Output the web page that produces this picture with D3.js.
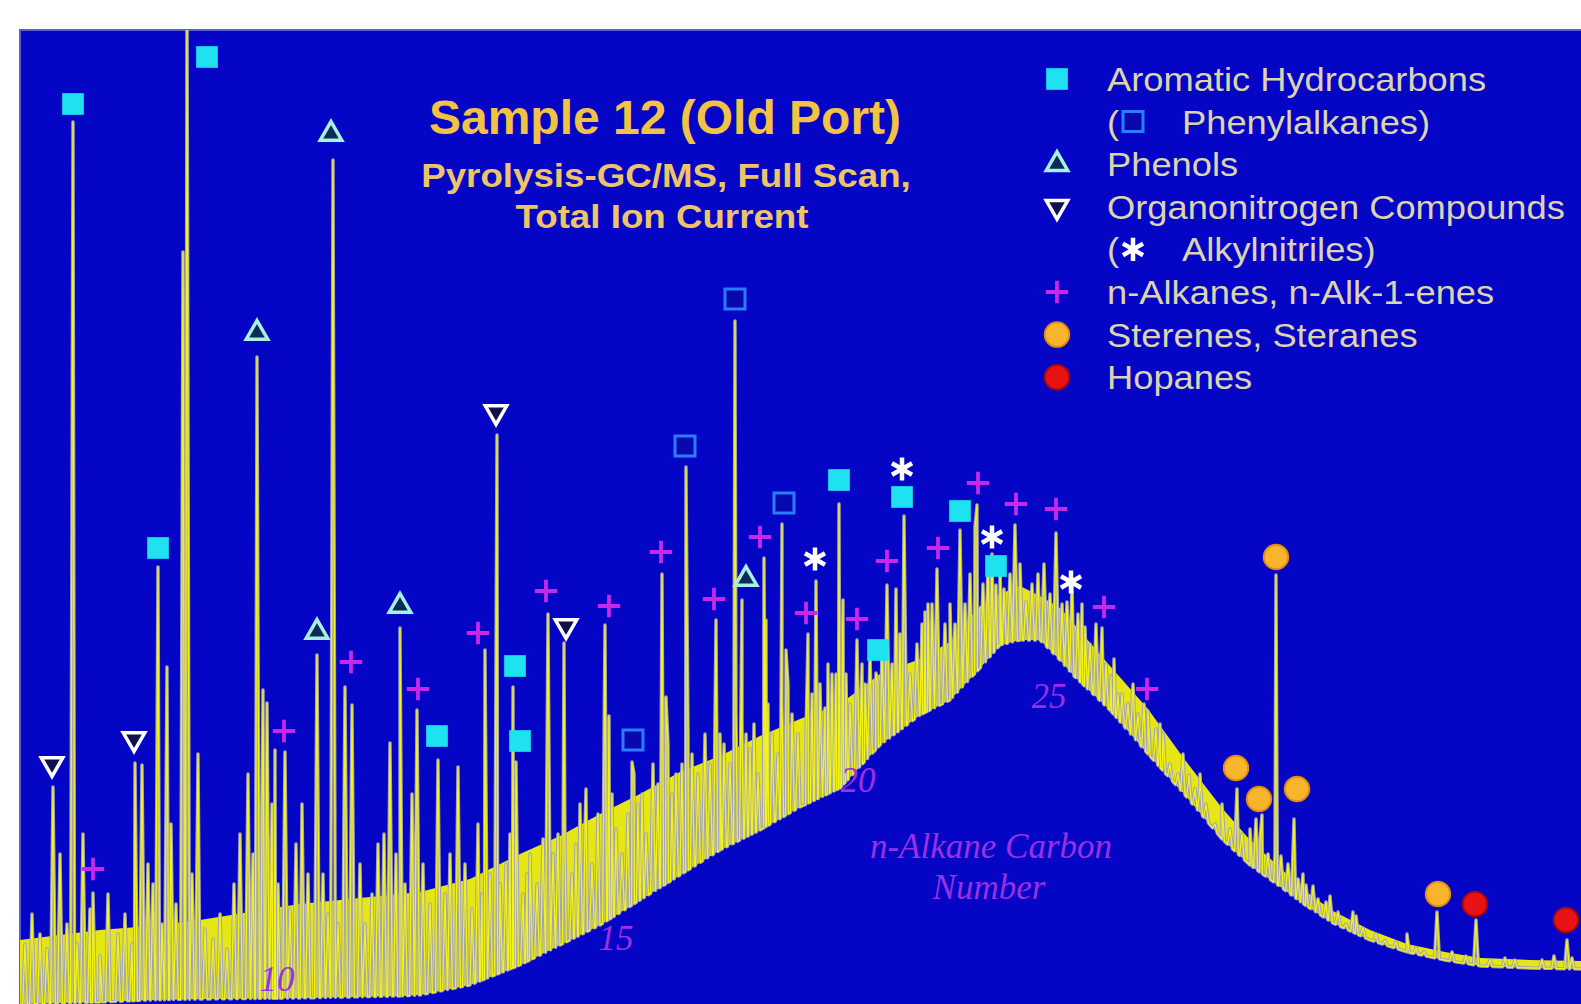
<!DOCTYPE html>
<html>
<head>
<meta charset="utf-8">
<script src="https://cdn.jsdelivr.net/npm/d3@7"></script>
<style>
html, body { margin: 0; padding: 0; background: #ffffff; overflow: hidden; }
svg { display: block; }
</style>
</head>
<body>
<svg id="chart" width="1581" height="1004"></svg>
<script>
// Pyrolysis-GC/MS total ion current, Sample 12 (Old Port)
// x = scan number, y = abundance (counts, arbitrary units)

// unresolved hump: lower and upper edge of the noisy band
var humpScan = [0, 80, 130, 180, 280, 380, 400, 450, 500, 540, 580, 620, 660, 700, 740, 780, 820, 860, 900, 930, 960, 980, 1000, 1020, 1040, 1054, 1090, 1128, 1165, 1202, 1230, 1258, 1285, 1313, 1350, 1387, 1425, 1461, 1510, 1561];
var humpLow  = [0, 2, 4, 5, 6, 8, 9, 19, 39, 59, 79, 104, 129, 154, 174, 197, 216, 259, 289, 304, 336, 359, 364, 364, 344, 328, 294, 250, 209, 165, 139, 119, 99, 81, 64, 52, 44, 38, 36, 35];
var humpHigh = [64, 74, 78, 84, 100, 110, 112, 125, 150, 168, 190, 210, 232, 248, 268, 285, 300, 330, 345, 362, 398, 410, 418, 408, 396, 380, 338, 295, 244, 196, 164, 138, 113, 93, 74, 60, 52, 46, 44, 43];

// resolved peaks [scan, apex counts]
var peaks = [
  [33, 217], [53, 882], [73, 111], [115, 241], [122, 239], [138, 437], [147, 337],
  [163, 752], [167, 1010], [237, 647], [243, 314], [247, 301], [255, 254], [265, 252],
  [297, 349], [313, 844], [325, 317], [332, 299], [370, 261], [380, 376], [397, 294],
  [418, 244], [438, 237], [465, 354], [477, 569], [493, 317], [496, 242], [528, 390],
  [544, 361], [566, 215], [585, 379], [589, 288], [612, 242], [642, 430], [646, 307],
  [666, 537], [696, 384], [715, 683], [722, 404], [744, 446], [746, 384], [762, 480],
  [766, 354], [788, 370], [796, 423], [805, 296], [819, 500], [823, 404], [837, 364],
  [856, 331], [867, 419], [876, 415], [884, 488], [905, 392], [917, 435], [940, 474],
  [955, 477], [957, 499], [976, 419], [984, 415], [995, 479], [1006, 402], [1036, 471],
  [1047, 402], [1065, 377], [1082, 376], [1091, 328], [1102, 310], [1128, 293],
  [1136, 275], [1143, 271], [1169, 229], [1180, 218], [1217, 215], [1236, 185],
  [1242, 189], [1256, 429], [1261, 148], [1274, 185], [1286, 119], [1306, 102],
  [1336, 88], [1387, 70], [1417, 92], [1456, 84], [1547, 64]
];

// small peaks riding on the hump [scan, apex counts]
var minorPeaks = [
  [5, 60], [12, 90], [20, 70], [27, 55], [40, 150], [47, 80], [57, 60], [63, 170],
  [70, 95], [80, 48], [88, 110], [98, 70], [105, 90], [112, 60], [128, 140], [133, 120],
  [142, 80], [151, 180], [156, 100], [172, 130], [178, 250], [185, 75], [193, 65],
  [200, 90], [207, 55], [214, 120], [220, 170], [228, 230], [233, 150], [252, 200],
  [258, 120], [270, 95], [276, 160], [282, 200], [288, 130], [303, 130], [308, 90],
  [318, 80], [340, 140], [345, 80], [352, 110], [358, 160], [364, 170], [376, 150],
  [385, 120], [392, 210], [403, 140], [410, 100], [425, 110], [430, 150], [445, 140],
  [452, 95], [458, 180], [462, 110], [470, 130], [480, 120], [486, 140], [490, 170],
  [503, 110], [507, 130], [510, 150], [517, 120], [523, 165], [533, 150], [538, 170],
  [545, 150], [552, 130], [556, 160], [560, 200], [565, 175], [572, 140], [578, 190],
  [592, 210], [596, 175], [602, 150], [608, 190], [614, 230], [618, 200], [622, 210],
  [626, 170], [633, 240], [638, 220], [648, 260], [652, 210], [656, 230], [662, 240],
  [668, 270], [672, 250], [678, 230], [685, 270], [690, 240], [700, 270], [704, 260],
  [710, 240], [716, 290], [722, 280], [726, 270], [730, 255], [734, 280], [738, 230],
  [748, 300], [752, 270], [758, 250], [762, 300], [768, 320], [772, 290], [778, 270],
  [786, 270], [792, 310], [800, 320], [808, 340], [812, 330], [816, 330], [826, 330],
  [830, 300], [842, 340], [845, 320], [850, 350], [858, 320], [862, 360], [872, 340],
  [880, 370], [890, 330], [897, 360], [902, 380], [908, 400], [912, 400], [925, 380],
  [930, 400], [935, 380], [945, 400], [950, 430], [963, 420], [968, 440], [972, 450],
  [980, 440], [990, 430], [1000, 440], [1012, 420], [1018, 430], [1024, 440], [1030, 410],
  [1042, 400], [1052, 420], [1058, 390], [1062, 400], [1070, 360], [1076, 380],
  [1086, 340], [1094, 345], [1098, 310], [1108, 300], [1113, 320], [1118, 290],
  [1124, 300], [1140, 280], [1150, 240], [1158, 230], [1163, 250], [1175, 215],
  [1180, 230], [1186, 200], [1195, 180], [1202, 200], [1210, 175], [1216, 190],
  [1222, 170], [1230, 175], [1240, 165], [1248, 150], [1255, 150], [1268, 140],
  [1278, 125], [1283, 130], [1293, 118], [1298, 105], [1310, 108], [1318, 92],
  [1326, 80], [1333, 92], [1343, 76], [1356, 70], [1365, 62], [1376, 62], [1396, 56],
  [1404, 50], [1432, 52], [1446, 48], [1470, 44], [1485, 46], [1495, 44], [1522, 44],
  [1534, 48], [1552, 46]
];

// compound class markers [scan, counts]
var aromatic = [[53, 900], [187, 947], [138, 456], [417, 268], [495, 338], [500, 263], [819, 524], [882, 507], [940, 493], [976, 438], [858, 354]];
var phenylalkanes = [[715, 705], [665, 558], [764, 501], [613, 264]];
var phenols = [[311, 870], [237, 671], [297, 372], [380, 398], [726, 425]];
var nitrogen = [[32, 240], [114, 265], [476, 592], [546, 378]];
var nitriles = [[795, 445], [882, 535], [972, 467], [1051, 422]];
var alkanes = [[73, 135], [264, 273], [331, 342], [398, 315], [458, 371], [526, 413], [589, 398], [641, 452], [694, 405], [740, 467], [786, 391], [837, 385], [867, 443], [918, 456], [958, 521], [996, 500], [1036, 495], [1084, 397], [1127, 315]];
var steranes = [[1256, 447], [1216, 236], [1239, 205], [1277, 215], [1418, 110]];
var hopanes = [[1455, 100], [1546, 84]];

// n-alkane carbon numbers [label, scan, counts]
var carbonNumbers = [["10", 257, 13], ["15", 596, 54], ["20", 838, 212], ["25", 1029, 296]];

var legendLabels = ["Aromatic Hydrocarbons", "Phenylalkanes)", "Phenols", "Organonitrogen Compounds", "Alkylnitriles)", "n-Alkanes, n-Alk-1-enes", "Sterenes, Steranes", "Hopanes"];
var legendKeys = ["aromatic", "phenylalkanes", "phenols", "nitrogen", "nitriles", "alkanes", "steranes", "hopanes"];

var W = 1581, H = 1004;
var svg = d3.select("#chart");

var x = d3.scaleLinear().domain([0, 1561]).range([20, 1581]);
var y = d3.scaleLinear().domain([0, 974]).range([1004, 30]);
var base = d3.scaleLinear().domain(humpScan).range(humpLow).clamp(true);

svg.append("clipPath").attr("id", "plotclip")
    .append("rect")
    .attr("x", x(0)).attr("y", y(974))
    .attr("width", W - x(0)).attr("height", H - y(974));

svg.append("rect")
    .attr("x", x(0)).attr("y", y(974))
    .attr("width", W - x(0)).attr("height", H - y(974))
    .attr("fill", "#0505c6");
svg.append("path")
    .attr("d", "M" + x(0) + "," + H + "V" + y(974) + "H" + W)
    .attr("fill", "none")
    .attr("stroke", "#5c5cd8")
    .attr("stroke-width", 2);

var plot = svg.append("g").attr("clip-path", "url(#plotclip)");

// noisy band of the hump
var humpData = humpScan.map(function(s, i) { return [s, humpLow[i], humpHigh[i]]; });
plot.append("path")
    .datum(humpData)
    .attr("fill", "#e6e614")
    .attr("d", d3.area()
        .x(function(d) { return x(d[0]); })
        .y0(function(d) { return y(d[1]); })
        .y1(function(d) { return y(d[2]); }));

// trace: hump plus narrow peaks
var pts = humpData.map(function(d) { return [d[0], d[1]]; });
peaks.concat(minorPeaks).forEach(function(p) {
    var w = 2.4;
    pts.push([p[0] - w, base(p[0] - w)]);
    pts.push([p[0], Math.max(p[1], base(p[0]) + 4)]);
    pts.push([p[0] + w, base(p[0] + w)]);
});
pts.sort(function(a, b) { return a[0] - b[0]; });

var line = d3.line()
    .x(function(d) { return x(d[0]); })
    .y(function(d) { return y(d[1]); });

plot.append("path")
    .datum(pts)
    .attr("fill", "none")
    .attr("stroke", "#a2a2bc")
    .attr("stroke-width", 3.4)
    .attr("stroke-linejoin", "round")
    .attr("d", line);
plot.append("path")
    .datum(pts)
    .attr("fill", "none")
    .attr("stroke", "#f4f414")
    .attr("stroke-width", 1.3)
    .attr("stroke-linejoin", "round")
    .attr("d", line);

// thin plus drawn as two strokes
var symbolThinPlus = {
    draw: function(ctx, size) {
        var r = Math.sqrt(size) / 2;
        ctx.moveTo(-r, 0); ctx.lineTo(r, 0);
        ctx.moveTo(0, -r); ctx.lineTo(0, r);
    }
};

// marker styles
var styles = {
    aromatic:      { sym: d3.symbolSquare, size: 470, fill: "#1fe2f0", stroke: "none", sw: 0 },
    phenylalkanes: { sym: d3.symbolSquare, size: 400, fill: "#0808ae", stroke: "#2c7cff", sw: 3 },
    phenols:       { sym: d3.symbolTriangle, size: 200, fill: "#0c2a5a", stroke: "#a8f0e4", sw: 3.5 },
    nitrogen:      { sym: d3.symbolTriangle, size: 200, fill: "#10104a", stroke: "#ffffff", sw: 3.5, flip: true },
    nitriles:      { sym: d3.symbolAsterisk, size: 380, fill: "none", stroke: "#ffffff", sw: 4.5 },
    alkanes:       { sym: symbolThinPlus, size: 500, fill: "none", stroke: "#c828e8", sw: 3.8 },
    steranes:      { sym: d3.symbolCircle, size: 470, fill: "#f8b42a", stroke: "#e08c10", sw: 2 },
    hopanes:       { sym: d3.symbolCircle, size: 470, fill: "#e81212", stroke: "#a80808", sw: 2 }
};
var classes = { aromatic: aromatic, phenylalkanes: phenylalkanes, phenols: phenols, nitrogen: nitrogen,
    nitriles: nitriles, alkanes: alkanes, steranes: steranes, hopanes: hopanes };

function symbolPath(st) {
    return d3.symbol(st.sym, st.size)();
}

legendKeys.forEach(function(k) {
    var st = styles[k];
    svg.append("g").attr("class", "marks " + k)
        .selectAll("path")
        .data(classes[k])
        .join("path")
            .attr("transform", function(d) {
                return "translate(" + x(d[0]) + "," + y(d[1]) + ")" + (st.flip ? " rotate(180)" : "");
            })
            .attr("d", symbolPath(st))
            .attr("fill", st.fill)
            .attr("stroke", st.stroke)
            .attr("stroke-width", st.sw);
});

// title
var title = svg.append("g").attr("fill", "#f2c244").attr("font-family", "'Liberation Sans', Arial, sans-serif")
    .attr("font-weight", "bold").attr("text-anchor", "middle");
title.append("text").attr("x", 665).attr("y", 134).attr("font-size", 48).text("Sample 12 (Old Port)");
title.append("text").attr("transform", "translate(666,187) scale(1.08,1)").attr("font-size", 34)
    .attr("fill", "#eec46a").text("Pyrolysis-GC/MS, Full Scan,");
title.append("text").attr("transform", "translate(662,228) scale(1.08,1)").attr("font-size", 34)
    .attr("fill", "#eec46a").text("Total Ion Current");

// legend
var legend = svg.append("g").attr("class", "legend");
legendLabels.forEach(function(lab, i) {
    var k = legendKeys[i];
    var st = styles[k];
    var cy = 79 + i * 42.6;
    var nested = (k === "phenylalkanes" || k === "nitriles");
    var mx = nested ? 1133 : 1057;
    legend.append("path")
        .attr("transform", "translate(" + mx + "," + cy + ")" + (st.flip ? " rotate(180)" : ""))
        .attr("d", symbolPath(st))
        .attr("fill", st.fill)
        .attr("stroke", st.stroke)
        .attr("stroke-width", st.sw);
    var t = legend.append("g")
        .attr("fill", "#dcd4ae")
        .attr("font-family", "'Liberation Sans', Arial, sans-serif")
        .attr("font-size", 33);
    if (nested) {
        t.append("text").attr("transform", "translate(1107," + (cy + 12) + ") scale(1.1,1)").text("(");
        t.append("text").attr("transform", "translate(1182," + (cy + 12) + ") scale(1.1,1)").text(lab);
    } else {
        t.append("text").attr("transform", "translate(1107," + (cy + 12) + ") scale(1.1,1)").text(lab);
    }
});

// carbon number labels
var cn = svg.append("g").attr("fill", "#9a30e2")
    .attr("font-family", "'Liberation Serif', 'Times New Roman', serif")
    .attr("font-style", "italic").attr("font-size", 35).attr("text-anchor", "middle");
cn.selectAll("text").data(carbonNumbers).join("text")
    .attr("x", function(d) { return x(d[1]); })
    .attr("y", function(d) { return y(d[2]); })
    .text(function(d) { return d[0]; });
cn.append("text").attr("x", 991).attr("y", 858).text("n-Alkane Carbon");
cn.append("text").attr("x", 989).attr("y", 899).text("Number");
</script>
</body>
</html>
